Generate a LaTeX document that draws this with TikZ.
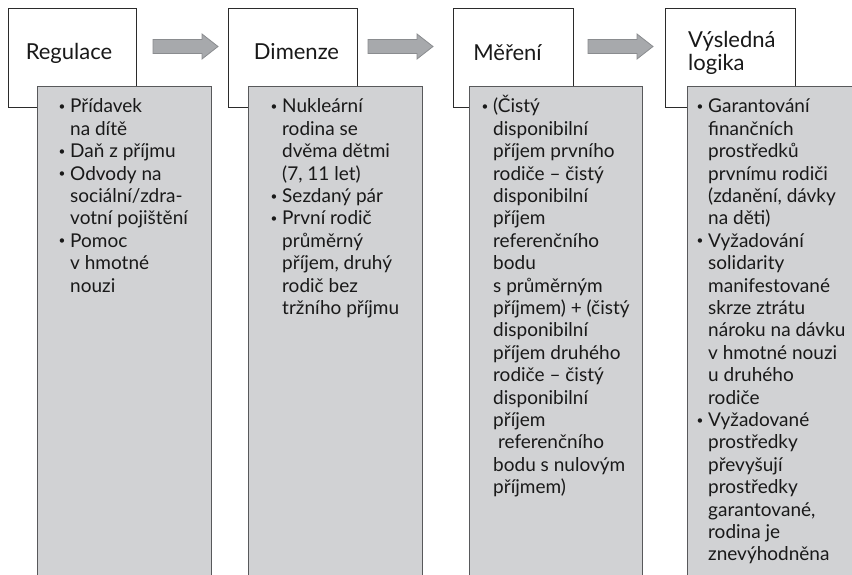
\documentclass[tikz,border=0pt]{standalone}
\usepackage{fontspec}
\setmainfont{Lato}
\definecolor{greyfill}{HTML}{D1D2D4}
\definecolor{greyline}{HTML}{58595B}
\definecolor{arrowfill}{HTML}{A7A9AC}
\definecolor{arrowline}{HTML}{8A8C8F}
\definecolor{boxline}{HTML}{2B2B2B}
\newcommand{\bl}{\makebox[12pt][l]{\hspace{0.5pt}\raisebox{0.13em}{\scalebox{0.62}{•}}}}
\newcommand{\ind}{\hspace*{12pt}}
\newcommand{\blockarr}[1]{\draw[blockarrow] (#1,39.5) -- ++(49,0) -- ++(0,-5.5) -- ++(16,12.5) -- ++(-16,12.5) -- ++(0,-5.5) -- ++(-49,0) -- cycle;}
\begin{document}
\begin{tikzpicture}[x=1pt,y=-1pt,
  titlebox/.style={draw=boxline, line width=1.2pt, fill=white, inner sep=0, anchor=north west, minimum height=99},
  greybox/.style={draw=greyline, line width=1.4pt, fill=greyfill, inner sep=0, anchor=north west, minimum height=520},
  blockarrow/.style={fill=arrowfill, draw=arrowline, line width=0.8pt},
  title/.style={font=\fontsize{22}{22}\selectfont, inner sep=0, anchor=base, text=black!90},
  body/.style={font=\fontsize{19}{22.4}\selectfont, inner sep=0, anchor=base west, text=black!90}]
\useasboundingbox (0,0) rectangle (852,575);
\clip (0,0) rectangle (852,575);
% white title boxes
\node[titlebox, minimum width=128] (t1) at (8,8) {};
\node[titlebox, minimum width=129] (t2) at (228,8) {};
\node[titlebox, minimum width=120] (t3) at (453,8) {};
\node[titlebox, minimum width=130] (t4) at (665,8) {};
% grey content boxes
\node[greybox, minimum width=174] (g1) at (37,86) {};
\node[greybox, minimum width=174] (g2) at (248,86) {};
\node[greybox, minimum width=173] (g3) at (469,86) {};
\node[greybox, minimum width=174] (g4) at (687,86) {};
% block arrows
\blockarr{153}
\blockarr{368}
\blockarr{588}
% titles
\node[title] (h1) at (69,59.5) {Regulace};
\node[title] (h2) at (296.5,59.5) {Dimenze};
\node[title] (h3) at (507.5,61) {Měření};
\node[title, anchor=base west] (h4) at (688,48) {\begin{tabular}[t]{@{}l@{}}Výsledná\\logika\end{tabular}};
% bodies
\node[body] (b1) at (58,113) {\begin{tabular}[t]{@{}l@{}}
\bl Přídavek\\
\ind na dítě\\
\bl Daň z příjmu\\
\bl Odvody na\\
\ind sociální/zdra-\\
\ind votní pojištění\\
\bl Pomoc\\
\ind v hmotné\\
\ind nouzi
\end{tabular}};
\node[body] (b2) at (270,113) {\begin{tabular}[t]{@{}l@{}}
\bl Nukleární\\
\ind rodina se\\
\ind dvěma dětmi\\
\ind (7, 11 let)\\
\bl Sezdaný pár\\
\bl První rodič\\
\ind průměrný\\
\ind příjem, druhý\\
\ind rodič bez\\
\ind tržního příjmu
\end{tabular}};
\node[body] (b3) at (481,113) {\begin{tabular}[t]{@{}l@{}}
\bl (Čistý\\
\ind disponibilní\\
\ind příjem prvního\\
\ind rodiče – čistý\\
\ind disponibilní\\
\ind příjem\\
\ind referenčního\\
\ind bodu\\
\ind s průměrným\\
\ind příjmem) + (čistý\\
\ind disponibilní\\
\ind příjem druhého\\
\ind rodiče – čistý\\
\ind disponibilní\\
\ind příjem\\
\ind\ referenčního\\
\ind bodu s nulovým\\
\ind příjmem)
\end{tabular}};
\node[body] (b4) at (696,113) {\begin{tabular}[t]{@{}l@{}}
\bl Garantování\\
\ind finančních\\
\ind prostředků\\
\ind prvnímu rodiči\\
\ind (zdanění, dávky\\
\ind na děti)\\
\bl Vyžadování\\
\ind solidarity\\
\ind manifestované\\
\ind skrze ztrátu\\
\ind nároku na dávku\\
\ind v hmotné nouzi\\
\ind u druhého\\
\ind rodiče\\
\bl Vyžadované\\
\ind prostředky\\
\ind převyšují\\
\ind prostředky\\
\ind garantované,\\
\ind rodina je\\
\ind znevýhodněna
\end{tabular}};
\end{tikzpicture}
\end{document}
